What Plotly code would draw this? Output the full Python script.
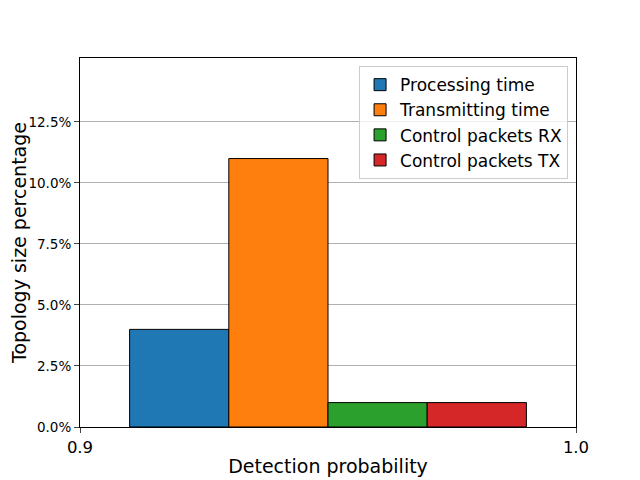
import plotly.graph_objects as go

# bar data
series = ['Processing time', 'Transmitting time', 'Control packets RX', 'Control packets TX']
positions = [0.92, 0.94, 0.96, 0.98]
values = [0.04, 0.11, 0.01, 0.01]
colors = ['#1f77b4', '#ff7f0e', '#2ca02c', '#d62728']

y_ticks = [0, 0.025, 0.05, 0.075, 0.10, 0.125]
y_labels = ['0.0%', '2.5%', '5.0%', '7.5%', '10.0%', '12.5%']
x_ticks = [0.9, 1.0]
x_labels = ['0.9', '1.0']

fig = go.Figure()
for name, pos, val, col in zip(series, positions, values, colors):
    fig.add_trace(go.Bar(
        x=[pos], y=[val], name=name, width=0.02,
        marker=dict(color=col, line=dict(color='black', width=1)),
    ))

# page body adds an 8px offset, margins compensate for it
fig.update_layout(
    width=640, height=480,
    margin=dict(l=72, r=72, t=50, b=61, autoexpand=False),
    plot_bgcolor='white', paper_bgcolor='white',
    font=dict(family='DejaVu Sans', color='black'),
    barmode='overlay',
    showlegend=True,
    legend=dict(
        x=0.984, y=0.978, xanchor='right', yanchor='top',
        font=dict(size=17),
        bgcolor='rgba(255,255,255,0.8)',
        bordercolor='#cccccc', borderwidth=1,
        tracegroupgap=0,
    ),
)
fig.update_xaxes(
    range=[0.9, 1.0], tickvals=x_ticks, ticktext=x_labels,
    tickfont=dict(size=16.5), ticks='outside', ticklen=5,
    showgrid=False, zeroline=False, automargin=False,
    showline=True, linecolor='black', linewidth=1, mirror=True,
    title=dict(text='Detection probability', font=dict(size=19), standoff=3),
)
fig.update_yaxes(
    range=[0, 0.1512], tickvals=y_ticks, ticktext=y_labels,
    tickfont=dict(size=13.5), ticks='outside', ticklen=5,
    showgrid=True, gridcolor='#b0b0b0', gridwidth=1, zeroline=False,
    automargin=False,
    showline=True, linecolor='black', linewidth=1, mirror=True,
    title=dict(text='Topology size percentage', font=dict(size=19), standoff=18),
)

fig.write_html("out.html")
